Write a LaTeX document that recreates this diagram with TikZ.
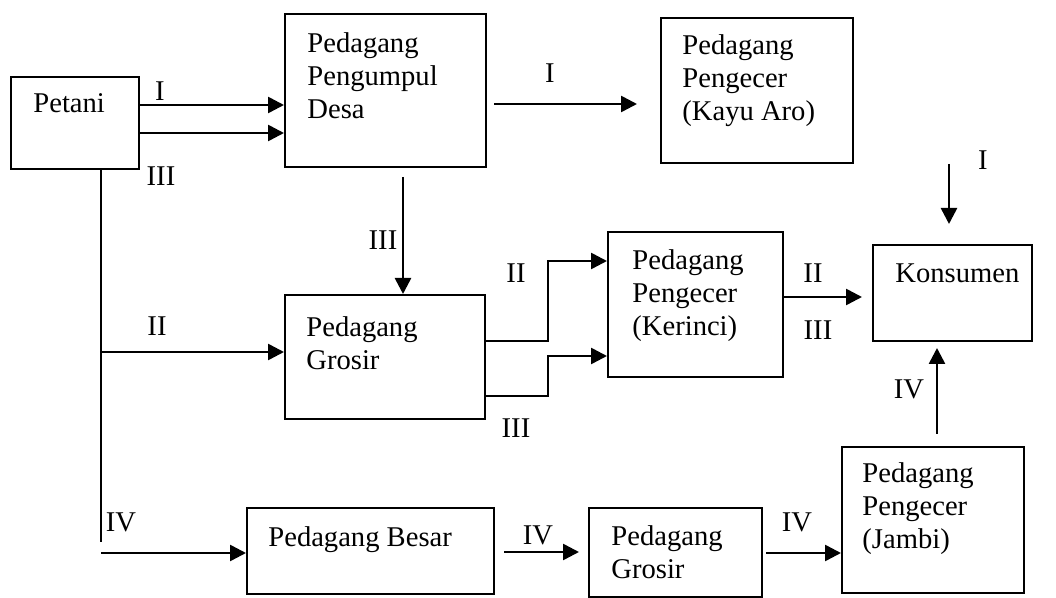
\documentclass[tikz,border=0pt]{standalone}
\usepackage{fontspec}
\setmainfont{Liberation Serif}
\usetikzlibrary{arrows.meta}

\begin{document}
\begin{tikzpicture}[x=0.5pt,y=-0.5pt,
    box/.style={draw, line width=1pt, inner sep=0pt},
    txt/.style={anchor=base west, align=left, inner sep=0pt, font=\fontsize{14.3}{16.5}\selectfont},
    lab/.style={inner sep=0pt, font=\fontsize{14.3}{16.5}\selectfont},
    wire/.style={line width=1.3pt},
    arr/.style={line width=1.3pt, -{Triangle[length=8pt,width=8pt]}}]
  \useasboundingbox (0,0) rectangle (1056,598);

  \node[box, minimum width=64pt, minimum height=46pt] (petani) at (75,123) {};
  \node[box, minimum width=100.5pt, minimum height=76.5pt] (desa) at (385.5,90.5) {};
  \node[box, minimum width=96pt, minimum height=72.5pt] (kayuaro) at (757,90.5) {};
  \node[box, minimum width=100pt, minimum height=62pt] (grosir) at (385,357) {};
  \node[box, minimum width=87.5pt, minimum height=72.5pt] (kerinci) at (695.5,304.5) {};
  \node[box, minimum width=79.5pt, minimum height=48pt] (konsumen) at (952.5,293) {};
  \node[box, minimum width=123.5pt, minimum height=43pt] (besar) at (370.5,551) {};
  \node[box, minimum width=86.5pt, minimum height=44.5pt] (grosirjb) at (675.5,552.5) {};
  \node[box, minimum width=91pt, minimum height=73pt] (jambi) at (933,520) {};

  % multi-line texts sit on the baseline of their last line
  \node[txt] (tpetani) at (33,113) {Petani};
  \node[txt] (tdesa) at (307,119) {Pedagang\\Pengumpul\\Desa};
  \node[txt] (tkayuaro) at (682,121) {Pedagang\\Pengecer\\(Kayu Aro)};
  \node[txt] (tgrosir) at (306,370) {Pedagang\\Grosir};
  \node[txt] (tkerinci) at (632,336) {Pedagang\\Pengecer\\(Kerinci)};
  \node[txt] (tkonsumen) at (895,283) {Konsumen};
  \node[txt] (tbesar) at (268,547) {Pedagang Besar};
  \node[txt] (tgrosirjb) at (611,579) {Pedagang\\Grosir};
  \node[txt] (tjambi) at (862,549) {Pedagang\\Pengecer\\(Jambi)};

  \coordinate (trunkend) at (101,542);
  \coordinate (startII) at (101,352);
  \coordinate (startIV) at (101,553);

  \draw[arr] (petani.east |- 0,105) -- (desa.west |- 0,105);
  \draw[arr] (petani.east |- 0,133) -- (desa.west |- 0,133);
  \draw[wire] (petani.south -| trunkend) -- (trunkend);
  \draw[arr] (startII) -- (grosir.west |- startII);
  \draw[arr] (startIV) -- (besar.west |- startIV);
  \draw[arr, shorten <=3.5pt, shorten >=11.5pt] (desa.east |- 0,104) -- (kayuaro.west |- 0,104);
  \draw[arr, shorten >=10pt] (kayuaro.south -| 949,0) -- (konsumen.north -| 949,0);
  \draw[arr, shorten <=4.5pt] (desa.south -| 403,0) -- (grosir.north -| 403,0);
  \draw[arr] (grosir.east |- 0,341) -- ++(62,0) |- (kerinci.west |- 0,261);
  \draw[arr] (grosir.east |- 0,396) -- ++(62,0) |- (kerinci.west |- 0,356);
  \draw[arr, shorten >=5pt] (kerinci.east |- 0,297) -- (konsumen.west |- 0,297);
  \draw[arr, shorten <=4.5pt, shorten >=4.5pt] (besar.east |- 0,552) -- (grosirjb.west |- 0,552);
  \draw[arr, shorten <=1.5pt] (grosirjb.east |- 0,553) -- (jambi.west |- 0,553);
  \draw[arr, shorten <=6pt, shorten >=3pt] (jambi.north -| 937,0) -- (konsumen.south -| 937,0);

  \node[lab] (l1) at (160,91) {I};
  \node[lab] (l2) at (161,176) {III};
  \node[lab] (l3) at (550,73) {I};
  \node[lab] (l4) at (983,160) {I};
  \node[lab] (l5) at (383,240) {III};
  \node[lab] (l6) at (157,326) {II};
  \node[lab] (l7) at (121,522) {IV};
  \node[lab] (l8) at (516,273) {II};
  \node[lab] (l9) at (516,428) {III};
  \node[lab] (l10) at (813,273) {II};
  \node[lab] (l11) at (818,330) {III};
  \node[lab] (l12) at (909,389) {IV};
  \node[lab] (l13) at (538,535) {IV};
  \node[lab] (l14) at (797,522) {IV};
\end{tikzpicture}
\end{document}
